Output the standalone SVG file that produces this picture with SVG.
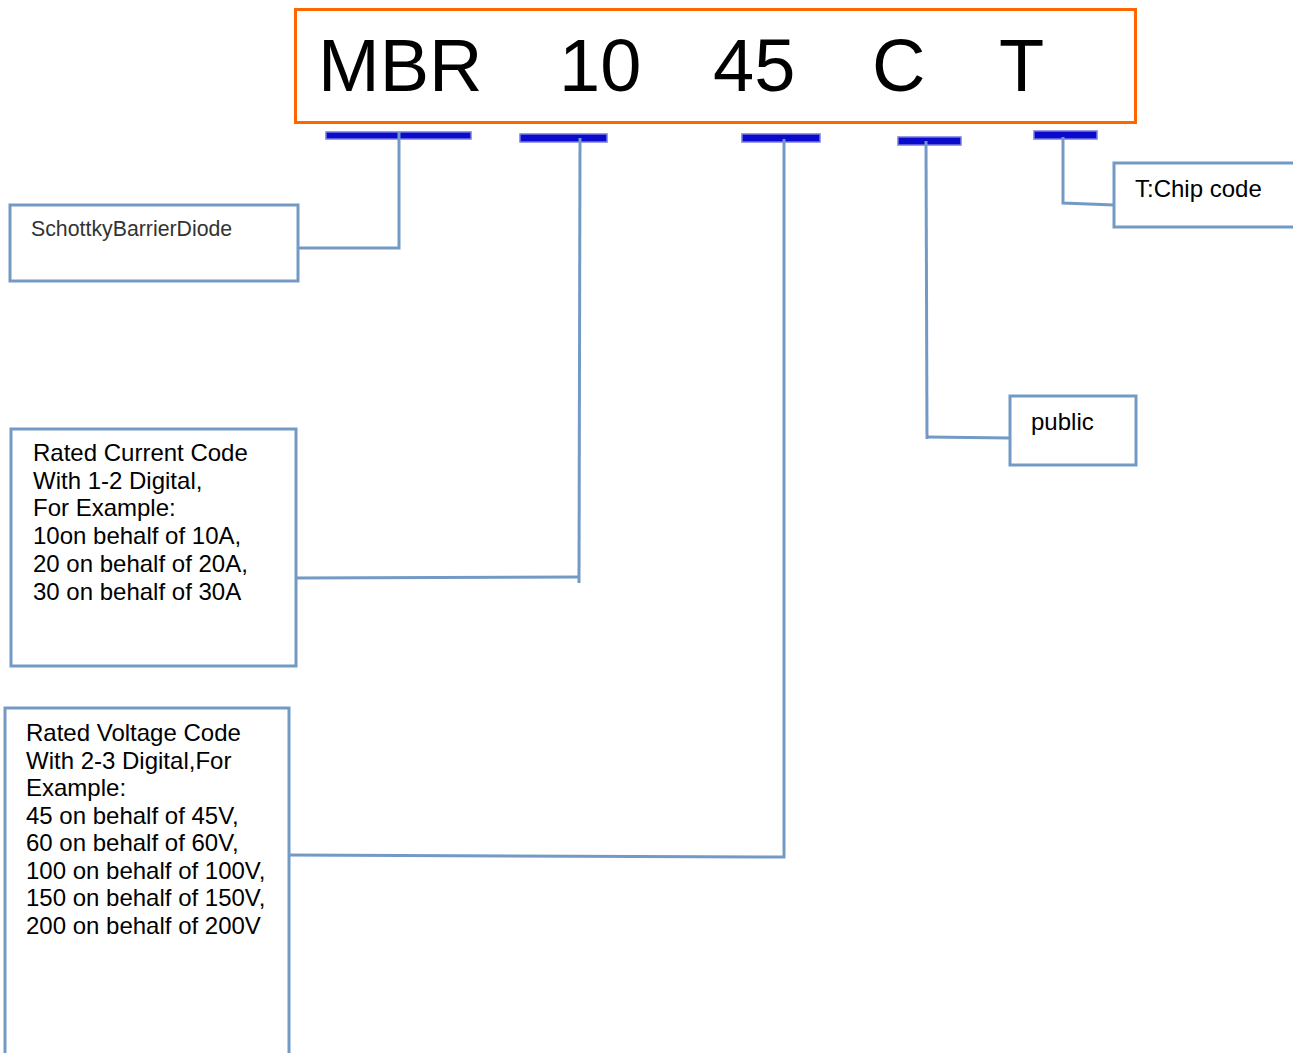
<svg xmlns="http://www.w3.org/2000/svg" width="1293" height="1053" viewBox="0 0 1293 1053">
<style>
.box{fill:#fff;stroke:#739ac5;stroke-width:3}
.con{fill:none;stroke:#739ac5;stroke-width:3}
.bar{fill:#0a0acc;stroke:#7a7ae0;stroke-width:1.5}
.big{font-family:"Liberation Sans",Arial,sans-serif;font-size:74px;fill:#000}
.t{font-family:"Liberation Sans",Arial,sans-serif;font-size:24px;fill:#000}
.s{font-family:"Liberation Sans",Arial,sans-serif;font-size:21.3px;fill:#333}
</style>
<rect width="1293" height="1053" fill="#fff"/>
<g id="code">
<rect x="295.5" y="9.5" width="840" height="113" fill="#fff" stroke="#ff6600" stroke-width="3"/>
<text class="big" x="318" y="91">MBR</text>
<text class="big" x="559" y="91">10</text>
<text class="big" x="713" y="91">45</text>
<text class="big" x="872" y="91">C</text>
<text class="big" x="999" y="91">T</text>
</g>
<g id="bars">
<rect class="bar" x="326" y="132" width="145" height="7"/>
<rect class="bar" x="520" y="134" width="87" height="8"/>
<rect class="bar" x="742" y="134" width="78" height="8"/>
<rect class="bar" x="898" y="137" width="63" height="8"/>
<rect class="bar" x="1034" y="131" width="63" height="8"/>
</g>
<g id="connectors">
<polyline class="con" points="399,132 399,248 298,248"/>
<polyline class="con" points="580,138 579,583"/>
<polyline class="con" points="296,578 580,577"/>
<polyline class="con" points="784,139 784,857 289,855"/>
<polyline class="con" points="926,141 927,439"/>
<polyline class="con" points="927,437 1010,438"/>
<polyline class="con" points="1063,137 1063,203 1114,205"/>
</g>
<g id="node-sbd">
<rect class="box" x="10" y="205" width="288" height="76"/>
<text class="s" x="31" y="236">SchottkyBarrierDiode</text>
</g>
<g id="node-current">
<rect class="box" x="11" y="429" width="285" height="237"/>
<text class="t" x="33" y="461">Rated Current Code</text>
<text class="t" x="33" y="489">With 1-2 Digital,</text>
<text class="t" x="33" y="516">For Example:</text>
<text class="t" x="33" y="544">10on behalf of 10A,</text>
<text class="t" x="33" y="572">20 on behalf of 20A,</text>
<text class="t" x="33" y="600">30 on behalf of 30A</text>
</g>
<g id="node-voltage">
<rect class="box" x="5" y="708" width="284" height="350"/>
<text class="t" x="26" y="741">Rated Voltage Code</text>
<text class="t" x="26" y="769">With 2-3 Digital,For</text>
<text class="t" x="26" y="796">Example:</text>
<text class="t" x="26" y="824">45 on behalf of 45V,</text>
<text class="t" x="26" y="851">60 on behalf of 60V,</text>
<text class="t" x="26" y="879">100 on behalf of 100V,</text>
<text class="t" x="26" y="906">150 on behalf of 150V,</text>
<text class="t" x="26" y="934">200 on behalf of 200V</text>
</g>
<g id="node-chip">
<rect class="box" x="1114" y="163" width="185" height="64"/>
<text class="t" x="1135" y="197">T:Chip code</text>
</g>
<g id="node-public">
<rect class="box" x="1010" y="396" width="126" height="69"/>
<text class="t" x="1031" y="430">public</text>
</g>
</svg>
